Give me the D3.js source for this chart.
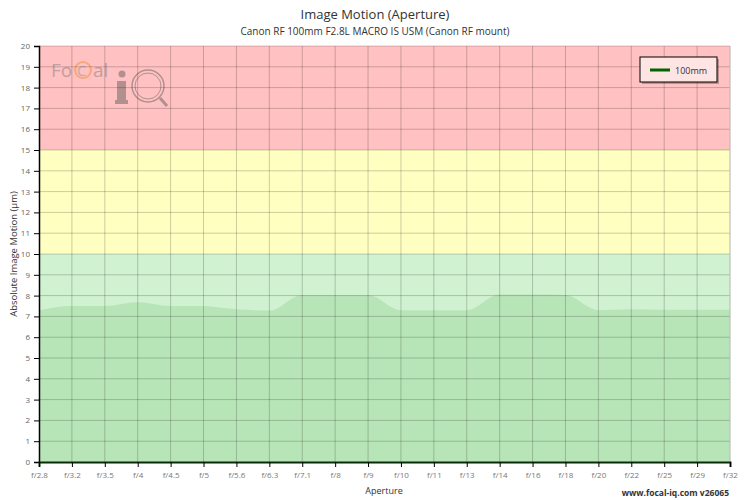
<!DOCTYPE html>
<html>
<head>
<meta charset="utf-8">
<script src="https://cdn.jsdelivr.net/npm/d3@7"></script>
<style>
  body { margin: 0; background: #fff; font-family: "Open Sans", sans-serif; }
</style>
</head>
<body>
<div id="chart"></div>
<script>
// apertures along the x axis
const apertures = ["f/2.8","f/3.2","f/3.5","f/4","f/4.5","f/5","f/5.6","f/6.3","f/7.1","f/8","f/9",
  "f/10","f/11","f/13","f/14","f/16","f/18","f/20","f/22","f/25","f/29","f/32"];
// image motion in µm, 100mm series
const motion100 = [7.3, 7.5, 7.5, 7.68, 7.5, 7.5, 7.34, 7.28, 8.03, 8.03, 8.03,
  7.3, 7.3, 7.3, 8.05, 8.05, 8.03, 7.3, 7.34, 7.32, 7.32, 7.32];
const yTicks = d3.range(0, 21);
// quality bands
const bandLimits = [[15, 20], [10, 15], [0, 10]];
const bandColors = ["#ffc1c1", "#ffffc1", "#d0f2d0"];

const w = 750, h = 500;
const margin = {left: 39, right: 20, top: 46, bottom: 38};

let svg = d3.select("#chart").append("svg")
  .attr("width", w).attr("height", h);

let x = d3.scalePoint()
  .domain(apertures)
  .range([margin.left, w - margin.right]);

let y = d3.scaleLinear()
  .domain([0, 20])
  .range([h - margin.bottom, margin.top]);

// background bands
svg.selectAll("rect.band")
  .data(bandLimits)
  .enter().append("rect")
  .attr("class", "band")
  .attr("x", margin.left)
  .attr("width", w - margin.right - margin.left)
  .attr("y", d => y(d[1]))
  .attr("height", d => y(d[0]) - y(d[1]))
  .attr("fill", (d, i) => bandColors[i]);

// logo watermark (rough)
let logo = svg.append("g").attr("opacity", 0.45);
logo.append("text").attr("x", 51).attr("y", 77)
  .attr("font-size", 19).attr("fill", "#777").text("Fo");
logo.append("circle").attr("cx", 83).attr("cy", 70).attr("r", 8)
  .attr("fill", "none").attr("stroke", "#f08a20").attr("stroke-width", 2);
logo.append("text").attr("x", 77).attr("y", 76)
  .attr("font-size", 15).attr("fill", "#888").text("C");
logo.append("text").attr("x", 93).attr("y", 77)
  .attr("font-size", 19).attr("fill", "#777").text("al");
logo.append("circle").attr("cx", 122).attr("cy", 74).attr("r", 3.5).attr("fill", "#555");
logo.append("rect").attr("x", 117).attr("y", 81).attr("width", 9).attr("height", 22).attr("fill", "#555");
logo.append("rect").attr("x", 115).attr("y", 100).attr("width", 13).attr("height", 4).attr("fill", "#555");
logo.append("circle").attr("cx", 148).attr("cy", 86).attr("r", 16)
  .attr("fill", "none").attr("stroke", "#555").attr("stroke-width", 1.5);
logo.append("circle").attr("cx", 148).attr("cy", 86).attr("r", 13)
  .attr("fill", "none").attr("stroke", "#555").attr("stroke-width", 1);
logo.append("line").attr("x1", 160).attr("y1", 98).attr("x2", 167).attr("y2", 106)
  .attr("stroke", "#555").attr("stroke-width", 3);

// area for the 100mm series
let area = d3.area()
  .x((d, i) => x(apertures[i]))
  .y0(y(0))
  .y1(d => y(d))
  .curve(d3.curveMonotoneX);

svg.append("path")
  .datum(motion100)
  .attr("d", area)
  .attr("fill", "#a8dca8")
  .attr("fill-opacity", 0.6);

// grid
svg.append("g")
  .selectAll("line")
  .data(yTicks.slice(1))
  .enter().append("line")
  .attr("x1", margin.left).attr("x2", w - margin.right)
  .attr("y1", d => y(d)).attr("y2", d => y(d))
  .attr("stroke", "#000").attr("stroke-opacity", 0.2);

svg.append("g")
  .selectAll("line")
  .data(apertures.slice(1))
  .enter().append("line")
  .attr("x1", d => x(d)).attr("x2", d => x(d))
  .attr("y1", y(0)).attr("y2", y(20))
  .attr("stroke", "#000").attr("stroke-opacity", 0.2);

// right border
svg.append("line")
  .attr("x1", w - margin.right).attr("x2", w - margin.right)
  .attr("y1", y(0)).attr("y2", y(20))
  .attr("stroke", "#ccc");

// axes
let yAxis = svg.append("g")
  .attr("transform", `translate(${margin.left},0)`)
  .call(d3.axisLeft(y).tickValues(yTicks).tickSize(5).tickPadding(4));
yAxis.select(".domain").attr("stroke", "#000").attr("stroke-width", 1.5);
yAxis.selectAll("text").attr("font-size", 8).attr("fill", "#666").attr("font-family", "Open Sans");

let xAxis = svg.append("g")
  .attr("transform", `translate(0,${y(0)})`)
  .call(d3.axisBottom(x).tickSize(5).tickPadding(5));
xAxis.select(".domain").attr("stroke", "#0a2a0a").attr("stroke-width", 2);
xAxis.selectAll("text").attr("font-size", 8).attr("fill", "#777").attr("font-family", "Open Sans");

// titles
svg.append("text").attr("x", 375).attr("y", 19).attr("text-anchor", "middle")
  .attr("font-size", 13).attr("fill", "#333").text("Image Motion (Aperture)");
svg.append("text").attr("x", 375).attr("y", 35).attr("text-anchor", "middle")
  .attr("font-size", 10).attr("fill", "#333").text("Canon RF 100mm  F2.8L MACRO IS USM (Canon RF mount)");

svg.append("text").attr("x", 384).attr("y", 494).attr("text-anchor", "middle")
  .attr("font-size", 9).attr("fill", "#333").text("Aperture");

svg.append("text")
  .attr("transform", `translate(17,${y(10)}) rotate(-90)`)
  .attr("text-anchor", "middle")
  .attr("font-size", 9.5).attr("fill", "#333").text("Absolute Image Motion (µm)");

svg.append("text").attr("x", 729).attr("y", 496).attr("text-anchor", "end")
  .attr("font-size", 8.5).attr("font-weight", "bold").attr("fill", "#333")
  .text("www.focal-iq.com  v26065");

// legend
let legend = svg.append("g").attr("transform", "translate(640,57)");
legend.append("rect").attr("x", 2).attr("y", 2).attr("width", 77).attr("height", 25)
  .attr("fill", "#000").attr("fill-opacity", 0.25);
legend.append("rect").attr("width", 77).attr("height", 25)
  .attr("fill", "#ffe4e4").attr("stroke", "#000").attr("stroke-width", 1);
legend.append("line").attr("x1", 10).attr("x2", 30).attr("y1", 13).attr("y2", 13)
  .attr("stroke", "#006400").attr("stroke-width", 3);
legend.append("text").attr("x", 35).attr("y", 16.5)
  .attr("font-size", 9).attr("fill", "#333").text("100mm");
</script>
</body>
</html>
